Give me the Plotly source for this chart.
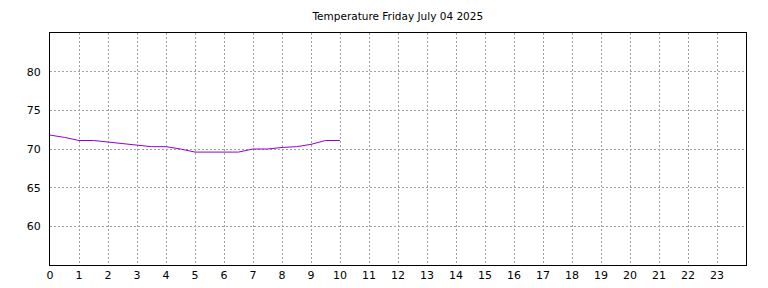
import plotly.graph_objects as go

hours = [0, 0.5, 1, 1.5, 2, 2.5, 3, 3.5, 4, 4.5, 5, 5.5, 6, 6.5, 7, 7.5, 8, 8.5, 9, 9.5, 10]
temps = [71.8, 71.5, 71.1, 71.1, 70.9, 70.7, 70.5, 70.3, 70.3, 70.0, 69.6, 69.6, 69.6, 69.6, 70.0, 70.0, 70.2, 70.3, 70.6, 71.1, 71.1]
x_ticks = list(range(0, 24))
y_ticks = [60, 65, 70, 75, 80]
title = "Temperature Friday July 04 2025"

fig = go.Figure()
fig.add_trace(go.Scatter(x=hours, y=temps, mode="lines",
                         line=dict(color="#9400D3", width=1), showlegend=False))

axis_common = dict(showline=True, linecolor="black", linewidth=1, mirror=True,
                   showgrid=True, gridcolor="#a0a0a0", griddash="2px,2px", gridwidth=1,
                   zeroline=False, ticks="", automargin=False,
                   tickfont=dict(family="DejaVu Sans", size=11, color="black"))
fig.update_layout(
    width=768, height=288,
    margin=dict(l=50, r=22, t=33, b=23),
    paper_bgcolor="white", plot_bgcolor="white",
    title=dict(text=title, x=0.518, xanchor="center", y=0.945, yanchor="middle",
               font=dict(family="DejaVu Sans", size=10.5, color="black")),
    xaxis=dict(range=[0, 24], tickvals=x_ticks, ticktext=[str(t) for t in x_ticks], **axis_common),
    yaxis=dict(range=[55, 85], tickvals=y_ticks, ticktext=[str(t) for t in y_ticks],
               ticklabelstandoff=6, **axis_common),
)
fig.write_html("out.html")
